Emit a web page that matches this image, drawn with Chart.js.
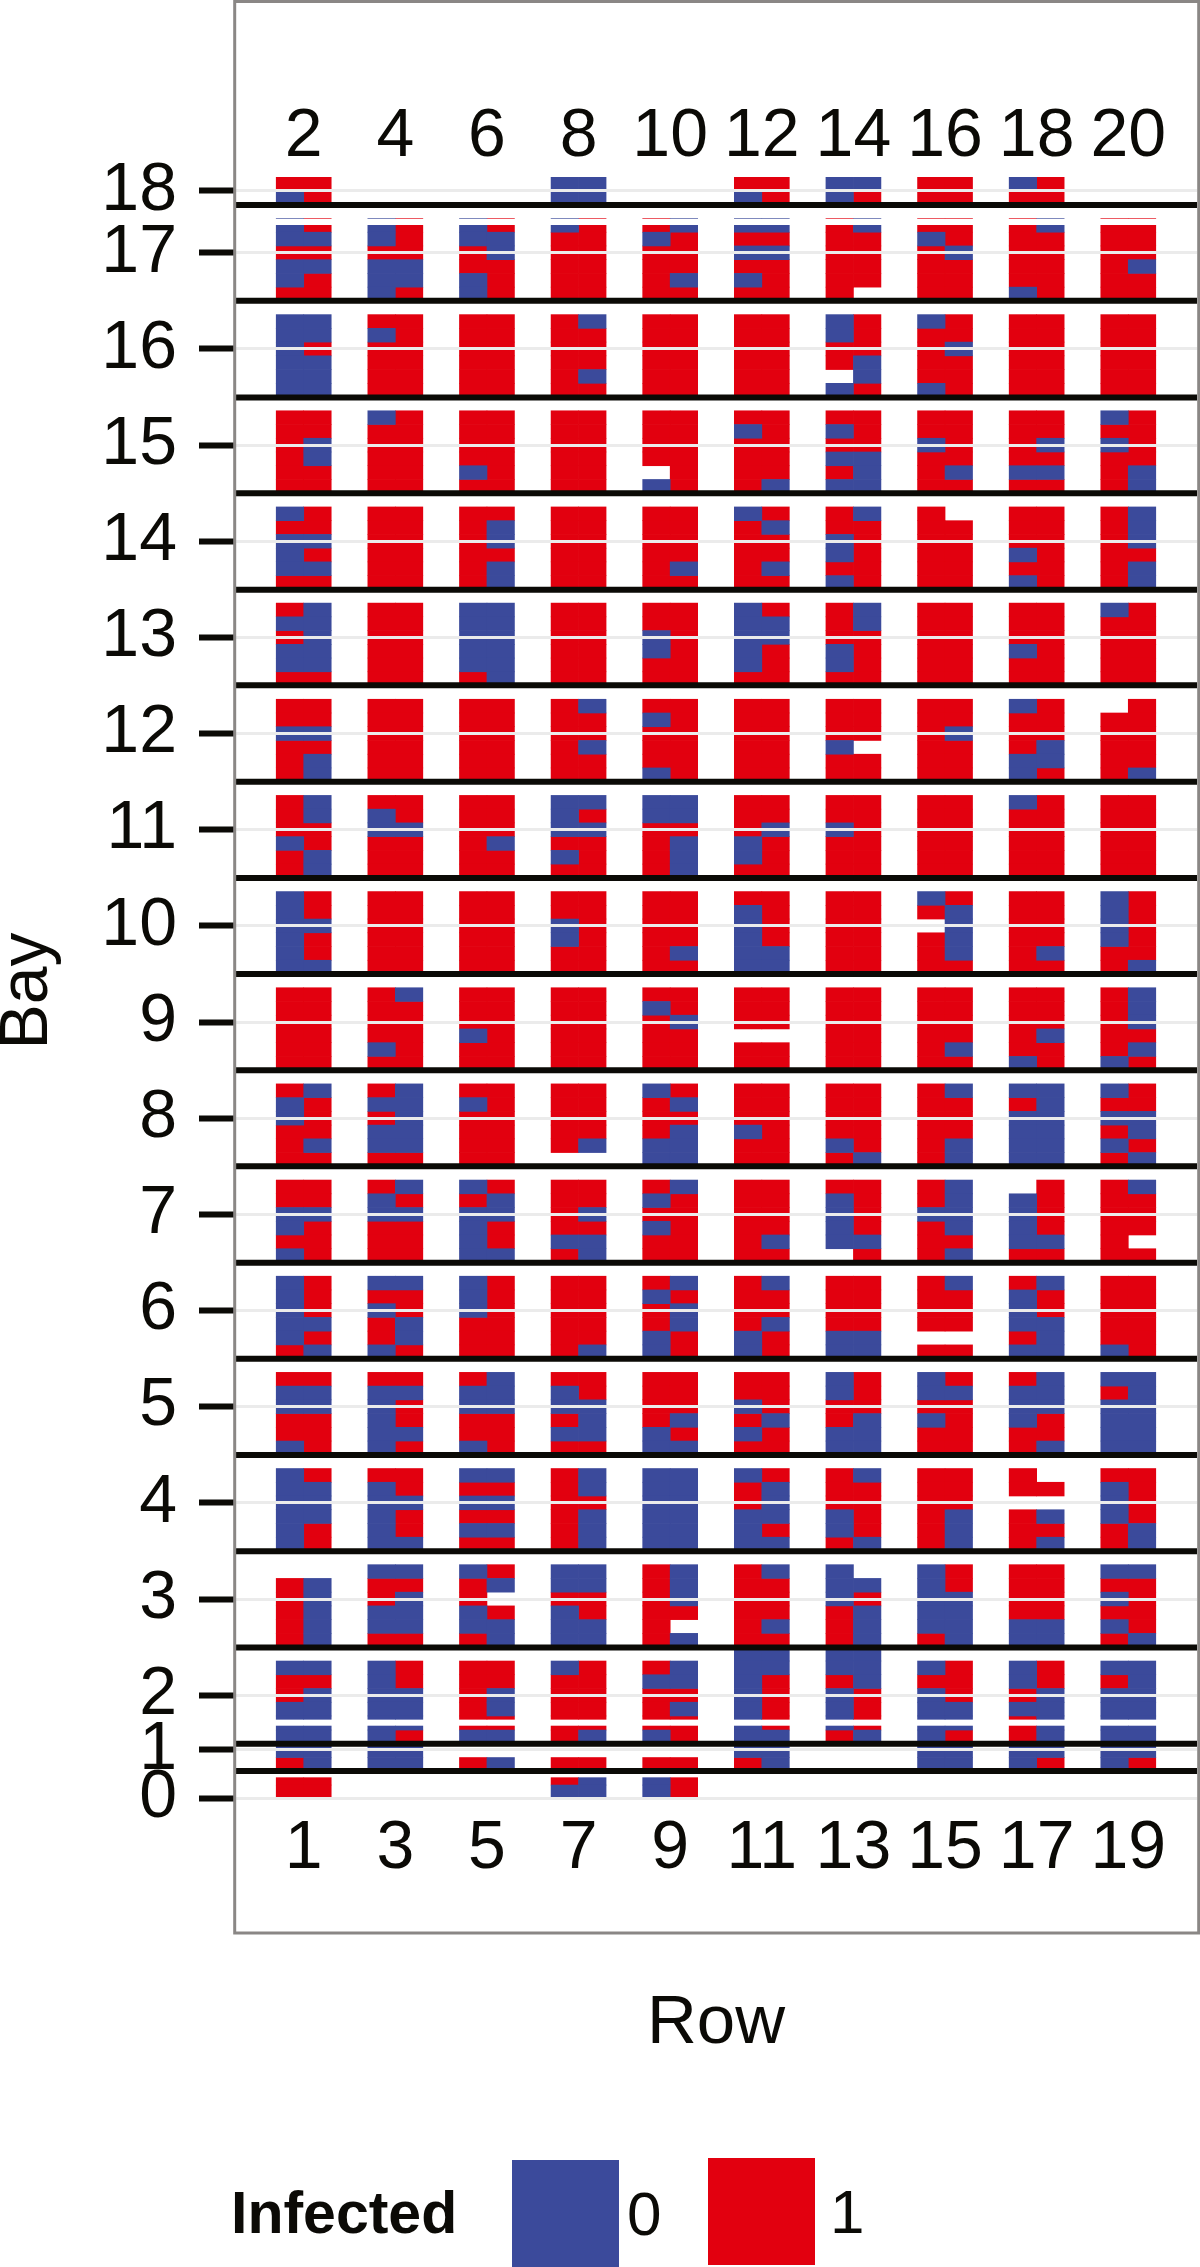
<!DOCTYPE html>
<html>
<head>
<meta charset="utf-8">
<title>Infected vines by row and bay</title>
<script src="https://cdn.jsdelivr.net/npm/chart.js@4/dist/chart.umd.min.js"></script>
<style>
    html, body { margin: 0; padding: 0; background: #fff; }
    #wrap { position: relative; width: 1200px; height: 2267px; overflow: hidden; font-family: "Liberation Sans", Arial, sans-serif; color: #0b0a06; }
    #wrap canvas { position: absolute; left: 0; top: 0; }
    .legend-title { position: absolute; left: 231px; top: 2179px; font-size: 59px; line-height: 68px; font-weight: bold; }
    .legend-box { position: absolute; width: 107px; height: 107px; }
    .legend-label { position: absolute; font-size: 62px; line-height: 72px; }
</style>
</head>
<body>
<div id="wrap">
    <canvas id="bayChart" width="1200" height="2267"></canvas>
    <div class="legend-title">Infected</div>
    <div class="legend-box" style="left:512px;top:2160px;background:#3b4a9b"></div>
    <div class="legend-label" style="left:627px;top:2178px">0</div>
    <div class="legend-box" style="left:708px;top:2158px;background:#e2000f"></div>
    <div class="legend-label" style="left:830px;top:2176px">1</div>
</div>
<script>
// Each bay: one string per pair of rows (1-2, 3-4 ... 19-20).
// In a string: one 2 letter group per vine level, top to bottom, left row then right row.
// B = Infected 0, R = Infected 1, . = no vine
const bay18 = ['RR BR', '', '', 'BB BB', '', 'RR BR', 'BB BR', 'RR RR', 'BR RR', ''];
const bay17 = ['BR BB RR BB BR RR', 'BR BR RR BB BB BR', 'BR BB RB RR BR BR', 'BR RR RR RR RR RR', 'RB BR RR RR RB RR', 'BB RR BB RR BR RR', 'RB RR RR RR RR R.', 'RR BR RB RR RR RR', 'RB RR RR RR RR BR', 'RR RR RR RB RR RR'];
const bay16 = ['BB BB BR BB BB BB', 'RR BR RR RR RR RR', 'RR RR RR RR RR RR', 'RB RR RR RR RB RR', 'RR RR RR RR RR RR', 'RR RR RR RR RR RR', 'BR BR RR RB .B BR', 'BR RR RB RR RR BR', 'RR RR RR RR RR RR', 'RR RR RR RR RR RR'];
const bay15 = ['RR RR RB RB RR RR', 'BR RR RR RR RR RR', 'RR RR RR RR BR RR', 'RR RR RR RR RR RR', 'RR RR RR RR .R BR', 'RR BR RR RR RR RB', 'RR BR RR BB RB BB', 'RR RR BR RR RB RR', 'RR RR RB RR BB RR', 'BR RR BR RR RB RB'];
const bay14 = ['BR RR BB BR BB RR', 'RR RR RR RR RR RR', 'RR RB RB RR RB RB', 'RR RR RR RR RR RR', 'RR RR RR RR RB RR', 'BR RB RR RR RB RR', 'RB RR BR BR RR BR', 'R. RR RR RR RR RR', 'RR RR RR BR RR BR', 'RB RB RB RR RB RB'];
const bay13 = ['RB BB RB BB BB RR', 'RR RR RR RR RR RR', 'BB BB BB BB BB RB', 'RR RR RR RR RR RR', 'RR RR BR BR RR RR', 'BR BB BB BR BR RR', 'RB RB RR BR BR RR', 'RR RR RR RR RR RR', 'RR RR RR BR RR RR', 'BR RR RR RR RR RR'];
const bay12 = ['RR RR BB RR RB RB', 'RR RR RR RR RR RR', 'RR RR RR RR RR RR', 'RB RR RR RB RR RR', 'RR BR RR RR RR BR', 'RR RR RR RR RR RR', 'RR RR RR B. RR RR', 'RR RR RB RR RR RR', 'BR RR RR RB BB BR', '.R RR RR RR RR RB'];
const bay11 = ['RB RB RR BR RB RB', 'RR BR BB RR RR RR', 'RR RR RR RB RR RR', 'BB BR BB RR BR RR', 'BB BB RR RB RB RB', 'RR RR RB BR BR RR', 'RR RR BR RR RR RR', 'RR RR RR RR RR RR', 'BR RR RR RR RR RR', 'RR RR RR RR RR RR'];
const bay10 = ['BR BR BB BR BR BB', 'RR RR RR RR RR RR', 'RR RR RR RR RR RR', 'RR RR BR BR RR RR', 'RR RR RR RR RB RR', 'RR BR BR BR BB BB', 'RR RR RR RR RR RR', 'BR RB .B RB RB RR', 'RR RR RR RR RB RR', 'BR BR BR BR RR RB'];
const bay9 = ['RR RR RR RR RR RR', 'RB RR RR RR BR RR', 'RR RR RR BR RR RR', 'RR RR RR RR RR RR', 'RR BR RB RR RR RR', 'RR RR RR .. RR RR', 'RR RR RR RR RR RR', 'RR RR RR RR RB RR', 'RR RR RR RB RR BR', 'RB RB RB RR RB BR'];
const bay8 = ['RB BR BR RR RB RR', 'RB BB RB BB BB RR', 'RR BR RR RR RR RR', 'RR RR RR RR RB ..', 'BR RB RR RB BB BB', 'RR RR RR BR RR RR', 'RR RR RR RR BR RB', 'RB RR RR RR RB RB', 'BB RB BB BB BB BB', 'BR RR BB RB BR RB'];
const bay7 = ['RR RR BB BR RR BR', 'RB BR BB RR RR RR', 'BR RB BB BR BR BB', 'RR RR RB RR BB RB', 'RB BR RR BR RR RR', 'RR RR RR RR RB RR', 'RR BR BR BR BB .R', 'RB RB BB RB RR RB', '.R BR BR BR BB RR', 'RB RR RR RR R. RR'];
const bay6 = ['BR BR BR BB BR RB', 'BB RR BR RB RB BR', 'BR BR BR RR RR RR', 'RR RR RR RR RR RB', 'RB BR RB RB BR BR', 'RB RR RR RB BR BR', 'RR RR RR RR BB BB', 'RB RR RR RR .. RR', 'RB BR BR BB RB BB', 'RR RR RR RR RR BR'];
const bay5 = ['RR BB BB RR RR BR', 'RR BB BR BR BB BR', 'RB BB BB RR RR BR', 'RR BR BB RB BB RR', 'RR RR RR RB BR BB', 'RR RR BR RB BR RR', 'BR BR RR RB BB BB', 'BR BB RR BR RR RR', 'RB BB BB BR RR RB', 'BB RB BB BB BB BB'];
const bay4 = ['BR BB BB BB BR BR', 'RR BR BB BR BR BB', 'BB RR BB RR BB RR', 'RB RB RR RB RB RB', 'BB BB BB BB BB BB', 'BR RB RB BB BR BB', 'RB RR RR BR BR RB', 'RR RR RR RB RB RB', 'R. RR .. RB RR RB', 'RR BR BR BR RB RB'];
const bay3 = ['.. RB RB RB RB RB', 'BB RR RB BB BB RR', 'BR RB R. BR BB RB', 'BB BB RR BR BB BB', 'RB RB RB RR R. RB', 'RB RR RR RR RB RR', 'B. BB BR RB RB RB', 'BR BR BB BB BB RB', 'RR RR RR RR BB BB', 'BB RR BR RR BR RB'];
const bay2 = ['.. BB RR RB BB BB', '.. BR BR BB BB BB', '.. RR RR RB RB RR', '.. BR RR RR RR RR', '.. RB BB RR RB RR', 'BB BB BR BR BR BR', 'BB BB RB BR BR BR', '.. BR RR BR BB BB', '.. BR BR RB BB RB', '.. BB RB BB BB BB'];
const bay1 = ['BB BB BB RB', 'BB BR BB BB', 'RR BB .. RB', 'RR RB .. RR', 'RR BR .. RR', 'BR BB BB RB', 'BR RB .. ..', 'BB BR BB BB', 'RB RB BB BR', 'BB BB BB BR'];
const bay0 = ['RR RR', '', '', 'RB BB', 'BR BR', '', '', '', '', ''];

const bays = [bay0, bay1, bay2, bay3, bay4, bay5, bay6, bay7, bay8, bay9, bay10, bay11, bay12, bay13, bay14, bay15, bay16, bay17, bay18];

// The bay axis of the figure is squeezed at both ends, so ticks are not evenly spaced
const bayLabels = ['0', '1', '2', '3', '4', '5', '6', '7', '8', '9', '10', '11', '12', '13', '14', '15', '16', '17', '18'];
const bayTicks = [0.925, 1.431, 2, 3, 4, 5, 6, 7, 8, 9, 10, 11, 12, 13, 14, 15, 16, 17, 17.645];
const bayTop = [1.208, 1.78, 2.498, 3.357, 4.357, 5.357, 6.357, 7.357, 8.357, 9.357, 10.357, 11.357, 12.357, 13.357, 14.357, 15.357, 16.357, 17.357, 17.785];
const bayLimits = { 0: [0.938, 1.142], 1: [1.2, 1.679], 2: [1.749, 2.498] };
const bayLines = [1.211, 1.495, 2.495, 3.497, 4.497, 5.499, 6.497, 7.5, 8.498, 9.5, 10.498, 11.5, 12.502, 13.496, 14.5, 15.496, 16.5, 17.496];
const whiteBands = [17.322];

const oddRows = ['1', '3', '5', '7', '9', '11', '13', '15', '17', '19'];
const evenRows = ['2', '4', '6', '8', '10', '12', '14', '16', '18', '20'];
const pairCentres = [1.5, 3.5, 5.5, 7.5, 9.5, 11.5, 13.5, 15.5, 17.5, 19.5];

const levelHeight = 1 / 7;
const sideOffset = 0.3;

// Turn the letter tables into floating bars
const notInfected = [];
const infected = [];
bays.forEach(function(bay, b) {
    const limits = bayLimits[b] || [-Infinity, Infinity];
    bay.forEach(function(pair, p) {
        pair.split(' ').forEach(function(level, l) {
            const hi = Math.min(bayTop[b] - l * levelHeight, limits[1]);
            const lo = Math.max(bayTop[b] - (l + 1) * levelHeight, limits[0]);
            [0, 1].forEach(function(side) {
                const point = { x: pairCentres[p] + (side ? sideOffset : -sideOffset), y: [lo, hi] };
                if (level[side] === 'B') notInfected.push(point);
                if (level[side] === 'R') infected.push(point);
            });
        });
    });
});

// Full width horizontal segments, broken by empty points
function fullWidth(values) {
    const out = [];
    values.forEach(function(v) {
        out.push({ x: 0, y: v }, { x: 21, y: v }, { x: null, y: null });
    });
    return out;
}

// Grey panel frame runs past the plot area, around the row labels
const framePlugin = {
    id: 'frame',
    afterDraw: function(chart) {
        const ctx = chart.ctx;
        ctx.save();
        ctx.strokeStyle = '#8a8785';
        ctx.lineWidth = 3;
        ctx.strokeRect(234.7, 1.5, 964, 1931.5);
        ctx.restore();
    }
};

const tickFont = { family: '"Liberation Sans"', size: 68, lineHeight: 1 };

new Chart(document.getElementById('bayChart').getContext('2d'), {
    type: 'bar',
    data: {
        datasets: [
            { label: '0', data: notInfected, backgroundColor: '#3b4a9b', order: 3 },
            { label: '1', data: infected, backgroundColor: '#e2000f', order: 3 },
            { type: 'line', label: 'band', data: fullWidth(whiteBands), borderColor: '#ffffff', borderWidth: 6.4, pointRadius: 0, spanGaps: false, order: 2 },
            { type: 'line', label: 'separator', data: fullWidth(bayLines), borderColor: '#0b0a06', borderWidth: 6, pointRadius: 0, spanGaps: false, order: 1 }
        ]
    },
    plugins: [framePlugin],
    options: {
        responsive: false,
        animation: false,
        events: [],
        layout: { padding: { right: 3 } },
        datasets: { bar: { grouped: false, barThickness: 27.5, borderWidth: 0 } },
        plugins: { legend: { display: false }, tooltip: { enabled: false } },
        scales: {
            x: {
                type: 'linear',
                position: 'bottom',
                min: 0,
                max: 21,
                offset: false,
                grid: { display: false, offset: false },
                border: { display: false },
                afterBuildTicks: function(axis) { axis.ticks = pairCentres.map(function(v) { return { value: v }; }); },
                afterFit: function(axis) { axis.height = 460; },
                ticks: {
                    autoSkip: false,
                    maxRotation: 0,
                    padding: 0,
                    color: '#0b0a06',
                    font: tickFont,
                    callback: function(v, i) { return oddRows[i]; }
                },
                title: {
                    display: true,
                    text: 'Row',
                    color: '#0b0a06',
                    font: { family: '"Liberation Sans"', size: 69 },
                    padding: { top: 0, bottom: 202 }
                }
            },
            xTop: {
                type: 'linear',
                position: 'top',
                min: 0,
                max: 21,
                offset: false,
                grid: { display: false, offset: false },
                border: { display: false },
                afterBuildTicks: function(axis) { axis.ticks = pairCentres.map(function(v) { return { value: v }; }); },
                afterFit: function(axis) { axis.height = 175; },
                ticks: {
                    autoSkip: false,
                    maxRotation: 0,
                    padding: -4,
                    color: '#0b0a06',
                    font: tickFont,
                    callback: function(v, i) { return evenRows[i]; }
                }
            },
            y: {
                type: 'linear',
                position: 'left',
                min: 0.837,
                max: 17.809,
                grid: { color: '#ebebeb', lineWidth: 3, z: 1, tickColor: '#0b0a06', tickWidth: 6, tickLength: 36 },
                border: { display: false },
                afterBuildTicks: function(axis) { axis.ticks = bayTicks.map(function(v) { return { value: v }; }); },
                afterFit: function(axis) { axis.width = 235; },
                ticks: {
                    autoSkip: false,
                    padding: 22,
                    color: '#0b0a06',
                    font: tickFont,
                    callback: function(v, i) { return bayLabels[i]; }
                },
                title: {
                    display: true,
                    text: 'Bay',
                    color: '#0b0a06',
                    font: { family: '"Liberation Sans"', size: 68, lineHeight: 0.8 },
                    padding: { top: 1.5, bottom: 0 }
                }
            }
        }
    }
});
</script>
</body>
</html>
